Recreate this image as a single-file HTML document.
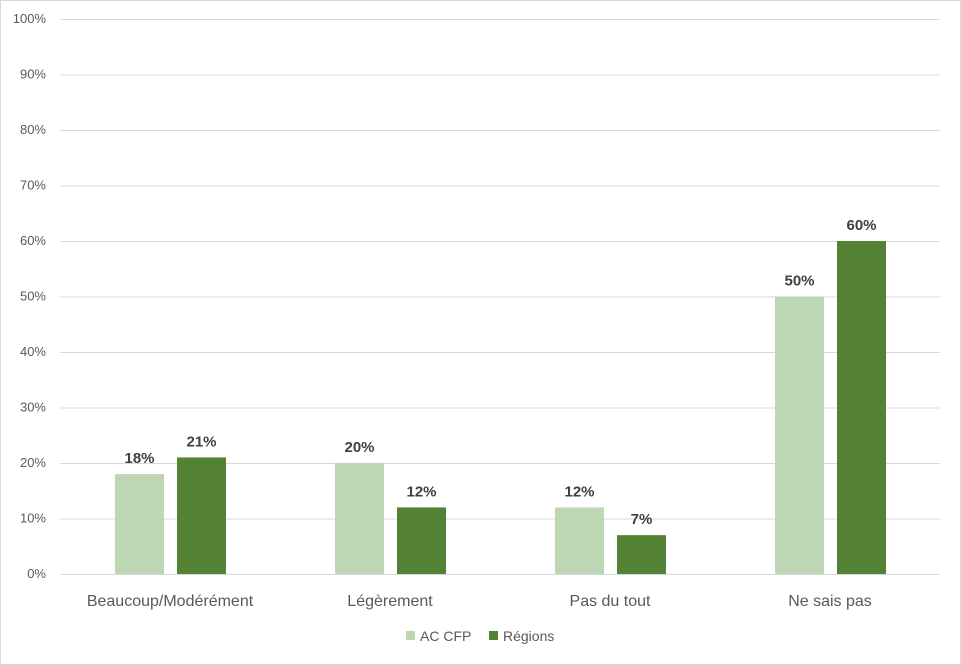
<!DOCTYPE html>
<html><head><meta charset="utf-8"><style>
html,body{margin:0;padding:0;background:#fff}
svg{display:block;font-family:"Liberation Sans",sans-serif}
</style></head><body>
<svg id="chart" width="961" height="665">
<rect x="0.5" y="0.5" width="960" height="664" fill="#fff" stroke="#d9d9d9"/>
<g id="grid"></g><g id="bars"></g><g id="labels"></g>
<g>
<rect x="406" y="631" width="9" height="9" fill="#bdd6b3"/>
<text x="420" y="641" font-size="14" fill="#595959">AC CFP</text>
<rect x="489" y="631" width="9" height="9" fill="#548235"/>
<text x="503" y="641" font-size="14" fill="#595959">Régions</text>
</g>
</svg>
<script>
const categories=["Beaucoup/Modérément","Légèrement","Pas du tout","Ne sais pas"];
const acCfp=[18,20,12,50];
const regions=[21,12,7,60];
const yTicks=[0,10,20,30,40,50,60,70,80,90,100];
const NS="http://www.w3.org/2000/svg";
const x0=60,x1=940,y0=574,y1=19;
const yS=v=>y0-(y0-y1)*v/100;
const band=(x1-x0)/categories.length;
const xC=i=>x0+band*(i+0.5);
function mk(t,a,p){const e=document.createElementNS(NS,t);for(const k in a)e.setAttribute(k,a[k]);p.appendChild(e);return e;}
const g=document.getElementById('grid'),b=document.getElementById('bars'),l=document.getElementById('labels');
yTicks.forEach(v=>{
 const ln=mk('line',{x1:x0,x2:x1,y1:yS(v)+0.5,y2:yS(v)+0.5,stroke:'#d9d9d9','stroke-width':1},g);
 
 
 const t=mk('text',{x:46,y:yS(v)+4,'text-anchor':'end','font-size':13,fill:'#595959'},g);
 t.textContent=v+'%';
 
 
});
categories.forEach((c,i)=>{
 const cx=xC(i);
 [[acCfp[i],-55,'#bdd6b3','ac-cfp'],[regions[i],7,'#548235','regions']].forEach(([v,off,col,nm])=>{
  const r=mk('rect',{x:cx+off,y:yS(v),width:49,height:y0-yS(v),fill:col},b);
  
  
  const t=mk('text',{x:cx+off+24.5,y:yS(v)-11,'text-anchor':'middle','font-size':15,'font-weight':'bold',fill:'#404040'},l);
  t.textContent=v+'%';
  
  
 });
 const t=mk('text',{x:cx,y:606,'text-anchor':'middle','font-size':16,fill:'#595959'},l);
 t.textContent=c;
 
 
});
</script>
</body></html>
